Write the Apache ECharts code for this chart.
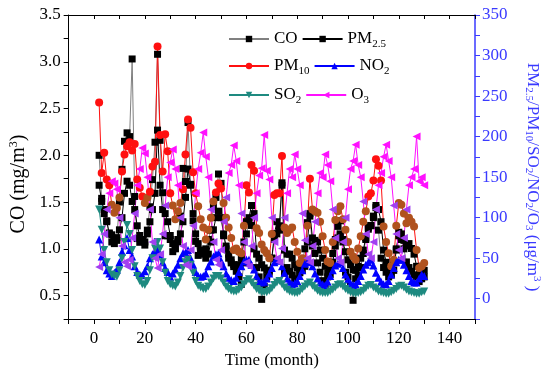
<!DOCTYPE html>
<html><head><meta charset="utf-8">
<script src="https://cdn.jsdelivr.net/npm/echarts@6/dist/echarts.min.js"></script>
<style>html,body{margin:0;padding:0;background:#fff}#c{width:550px;height:376px}</style>
</head><body><div id="c"></div>
<script>
const months = [2,3,4,5,6,7,8,9,10,11,12,13,14,15,16,17,18,19,20,21,22,23,24,25,26,27,28,29,30,31,32,33,34,35,36,37,38,39,40,41,42,43,44,45,46,47,48,49,50,51,52,53,54,55,56,57,58,59,60,61,62,63,64,65,66,67,68,69,70,71,72,73,74,75,76,77,78,79,80,81,82,83,84,85,86,87,88,89,90,91,92,93,94,95,96,97,98,99,100,101,102,103,104,105,106,107,108,109,110,111,112,113,114,115,116,117,118,119,120,121,122,123,124,125,126,127,128,129,130];

const CO = [2.00,1.54,1.42,1.30,1.17,1.15,1.10,1.12,1.50,1.85,2.15,
 2.24,2.20,3.03,1.56,1.11,1.07,1.10,1.04,1.20,1.45,1.74,2.14,
 3.08,2.16,1.60,1.14,1.14,1.10,0.97,1.00,1.10,1.35,1.86,1.72,
 2.35,1.69,1.30,1.08,0.93,0.98,0.95,1.00,1.10,1.20,1.45,1.55,
 1.80,1.70,1.14,1.00,0.90,0.85,0.81,0.76,0.70,0.62,0.85,1.16,
 1.30,1.25,1.00,0.80,0.70,0.46,0.60,0.70,0.75,0.90,1.10,1.16,
 1.20,1.68,0.74,0.80,0.76,0.72,0.68,0.81,0.75,0.85,1.00,1.28,
 1.35,1.03,0.95,0.85,0.75,0.66,0.62,0.70,0.80,0.95,1.10,1.24,
 1.30,1.10,0.75,0.70,0.60,0.45,0.68,0.72,0.80,0.95,1.10,1.21,
 1.25,1.35,1.44,1.20,0.90,0.80,0.75,0.70,0.72,0.85,1.00,1.14,
 1.10,1.00,0.86,0.80,0.76,0.72,0.70,0.65,0.68,0.70];

const PM25 = [140,120,105,95,80,70,68,72,85,100,130,
 145,140,120,110,90,78,72,70,80,95,110,130,
 208,140,110,105,95,78,68,62,70,80,95,125,
 160,140,105,80,68,60,55,50,55,70,85,100,
 108,100,80,65,55,48,42,40,42,50,70,95,
 100,115,105,55,50,42,38,35,35,50,80,95,
 90,143,60,55,55,50,42,38,32,35,40,70,
 105,75,72,70,60,50,40,32,30,45,65,75,
 80,70,58,48,42,36,35,40,50,60,75,88,
 90,100,115,110,95,60,45,38,30,35,60,82,
 80,72,65,68,62,55,40,30,32,35];

const PM10 = [242,155,180,147,140,116,106,112,125,157,178,
 188,193,183,191,147,137,126,118,125,132,163,169,
 311,202,157,203,182,130,115,98,108,118,135,178,
 221,211,156,130,114,98,88,73,85,100,120,131,
 142,136,118,100,88,75,60,62,58,56,90,140,
 131,165,158,87,81,67,60,56,50,80,128,130,
 130,176,88,81,85,88,70,58,44,50,46,90,
 148,110,108,106,95,77,60,46,44,70,97,108,
 114,98,85,70,58,52,48,62,77,95,108,126,
 130,146,172,164,146,89,70,56,40,48,90,118,
 116,105,93,100,95,89,60,38,40,44];

const NO2 = [73,52,45,35,31,28,32,36,45,58,66,
 75,60,52,40,33,30,29,34,40,50,55,58,
 60,55,45,38,33,27,31,36,42,50,56,57,
 60,50,42,33,28,27,28,31,40,46,52,55,
 56,47,40,31,26,23,22,26,33,40,46,48,
 48,42,36,28,22,20,21,25,31,38,45,47,
 48,40,32,25,21,18,19,22,28,35,43,45,
 46,40,31,25,20,18,17,21,28,35,41,43,
 45,38,30,24,19,17,18,22,28,36,42,45,
 48,41,32,26,21,18,18,22,30,38,45,48,
 48,42,35,28,22,20,20,25,30,28];

const SO2 = [110,85,60,45,35,30,28,27,35,50,70,
 91,80,60,40,28,22,18,17,22,35,50,62,
 70,62,45,32,22,18,16,15,20,28,38,45,
 48,42,32,22,16,14,12,12,15,20,25,28,
 28,25,20,15,12,10,9,9,11,14,18,22,
 24,20,16,12,10,8,8,8,10,13,17,20,
 22,18,14,11,9,8,7,7,9,12,15,18,
 20,16,13,10,8,7,7,7,9,11,14,17,
 18,15,12,10,8,7,6,7,8,10,13,16,
 17,14,12,9,8,7,6,6,8,10,12,15,
 16,14,11,9,8,7,6,6,8,9];

const O3 = [39,55,80,110,130,145,142,135,100,65,45,
 40,48,75,105,140,160,186,179,150,110,70,50,
 38,55,80,115,150,168,184,160,140,100,65,42,
 40,60,90,130,160,180,205,175,150,110,70,48,
 42,60,95,125,155,165,189,170,140,105,70,45,
 40,65,100,130,152,161,202,158,147,100,70,50,
 45,62,100,130,160,150,178,160,140,105,72,50,
 45,65,95,130,155,150,178,165,145,110,75,50,
 45,70,100,135,160,170,190,165,150,120,80,55,
 50,70,110,140,155,175,190,170,150,115,80,60,
 50,75,110,140,150,160,200,145,150,140];

const xTickLabels = [0,20,40,60,80,100,120,140];
const leftTickLabels = [0.5,1.0,1.5,2.0,2.5,3.0,3.5];
const rightTickLabels = [0,50,100,150,200,250,300,350];

const FONT = 'Liberation Serif';
const BLUE = '#3a3aff';
const pair = arr => months.map((m, i) => [m, arr[i]]);
const richBase = {
  n: {fontFamily: FONT, fontSize: 17, color: '#000', lineHeight: 22},
  s: {fontFamily: FONT, fontSize: 11, color: '#000', lineHeight: 22, verticalAlign: 'bottom', padding: [9,0,0,0]}
};
const legendText = {
  'CO': '{n|CO}', 'PM2.5': '{n|PM}{s|2.5}', 'PM10': '{n|PM}{s|10}',
  'NO2': '{n|NO}{s|2}', 'SO2': '{n|SO}{s|2}', 'O3': '{n|O}{s|3}'
};
function mkLegend(names, top) {
  return {
    data: names, left: 228, top: top, orient: 'horizontal', padding: 0,
    itemWidth: 40, itemHeight: 8, itemGap: 4,
    formatter: n => legendText[n],
    textStyle: {rich: richBase},
    selectedMode: false
  };
}

const chart = echarts.init(document.getElementById('c'), null, {renderer: 'canvas'});
chart.setOption({
  animation: false,
  backgroundColor: '#fff',
  grid: {left: 63, right: 75, top: 15, bottom: 57},
  legend: [
    mkLegend(['CO','PM2.5'], 30),
    mkLegend(['PM10','NO2'], 57),
    mkLegend(['SO2','O3'], 86)
  ],
  visualMap: [
    {show: false, type: 'piecewise', seriesIndex: 2, dimension: 1,
     pieces: [{min: -100, max: 125, color: '#b0521e'}, {min: 125, max: 1000, color: '#ff1010'}]},
    {show: false, type: 'piecewise', seriesIndex: 5, dimension: 1,
     pieces: [{min: -100, max: 125, color: '#a040f0'}, {min: 125, max: 1000, color: '#ff10ff'}]}
  ],
  xAxis: [
    {type: 'value', min: -10, max: 150, interval: 10, position: 'bottom',
     name: 'Time (month)', nameLocation: 'middle', nameGap: 33,
     nameTextStyle: {fontFamily: FONT, fontSize: 17, color: '#000'},
     axisLine: {onZero: false, lineStyle: {color: '#000', width: 1}},
     axisTick: {inside: false, length: 5, lineStyle: {color: '#000'}},
     axisLabel: {fontFamily: FONT, fontSize: 17, color: '#000', margin: 11,
       formatter: v => xTickLabels.includes(v) ? String(v) : ''},
     splitLine: {show: false}},
    {type: 'value', min: -10, max: 150, interval: 10, position: 'top',
     axisLine: {onZero: false, lineStyle: {color: '#000', width: 1}},
     axisTick: {inside: true, length: 4, lineStyle: {color: '#000'}},
     axisLabel: {show: false}, splitLine: {show: false}}
  ],
  yAxis: [
    {type: 'value', min: 0.25, max: 3.5, interval: 0.25, position: 'left',
     name: 'CO (mg/m{sup|3})', nameLocation: 'middle', nameGap: 38, nameRotate: 90,
     nameTextStyle: {fontFamily: FONT, fontSize: 20, color: '#000', padding: [0, 34, 0, 0],
       rich: {sup: {fontFamily: FONT, fontSize: 12, color: '#000', verticalAlign: 'top', padding: [0,0,9,0]}}},
     axisLine: {show: true, onZero: false, lineStyle: {color: '#000', width: 1}},
     axisTick: {inside: false, length: 5, lineStyle: {color: '#000'}},
     axisLabel: {fontFamily: FONT, fontSize: 17, color: '#000', margin: 8,
       formatter: v => leftTickLabels.some(t => Math.abs(t - v) < 1e-6) ? v.toFixed(1) : ''},
     splitLine: {show: false}},
    {type: 'value', min: -25, max: 350, interval: 25, position: 'right',
     name: '{n|PM}{s|2.5}{n|/PM}{s|10}{n|/SO}{s|2}{n|/NO}{s|2}{n|/O}{s|3}{n| (μg/m}{p|3}{n| )}',
     nameLocation: 'middle', nameGap: 48, nameRotate: -90,
     nameTextStyle: {fontFamily: FONT, fontSize: 17, color: BLUE, padding: [0, 0, 0, 20],
       rich: {
         n: {fontFamily: FONT, fontSize: 17, color: BLUE},
         s: {fontFamily: FONT, fontSize: 11, color: BLUE, verticalAlign: 'bottom', padding: [8,0,0,0]},
         p: {fontFamily: FONT, fontSize: 11, color: BLUE, verticalAlign: 'top', padding: [0,0,8,0]}
       }},
     axisLine: {show: true, onZero: false, lineStyle: {color: BLUE, width: 1.5}},
     axisTick: {inside: false, length: 5, lineStyle: {color: BLUE}},
     axisLabel: {fontFamily: FONT, fontSize: 17, color: BLUE, margin: 7,
       formatter: v => rightTickLabels.includes(v) ? String(v) : ''},
     splitLine: {show: false}}
  ],
  series: [
    {name: 'CO', type: 'line', yAxisIndex: 0, data: pair(CO), symbol: 'rect', symbolSize: 7,
     showAllSymbol: true, itemStyle: {color: '#000'}, lineStyle: {color: '#808080', width: 1}},
    {name: 'PM2.5', type: 'line', yAxisIndex: 1, data: pair(PM25), symbol: 'rect', symbolSize: 7,
     showAllSymbol: true, itemStyle: {color: '#000'}, lineStyle: {color: '#000', width: 1}},
    {name: 'PM10', type: 'line', yAxisIndex: 1, data: pair(PM10), symbol: 'circle', symbolSize: 8,
     showAllSymbol: true, itemStyle: {color: '#ff1010'}, lineStyle: {color: '#ff1010', width: 1}},
    {name: 'NO2', type: 'line', yAxisIndex: 1, data: pair(NO2), symbol: 'triangle', symbolSize: 8,
     showAllSymbol: true, itemStyle: {color: '#0000ff'}, lineStyle: {color: '#0000ff', width: 1}},
    {name: 'SO2', type: 'line', yAxisIndex: 1, data: pair(SO2), symbol: 'triangle', symbolRotate: 180, symbolSize: 8,
     showAllSymbol: true, itemStyle: {color: '#1e8a80'}, lineStyle: {color: '#1e8a80', width: 1}},
    {name: 'O3', type: 'line', yAxisIndex: 1, data: pair(O3), symbol: 'triangle', symbolRotate: 90, symbolSize: 8,
     showAllSymbol: true, itemStyle: {color: '#ff10ff'}, lineStyle: {color: '#ff10ff', width: 1}}
  ]
});
</script></body></html>
